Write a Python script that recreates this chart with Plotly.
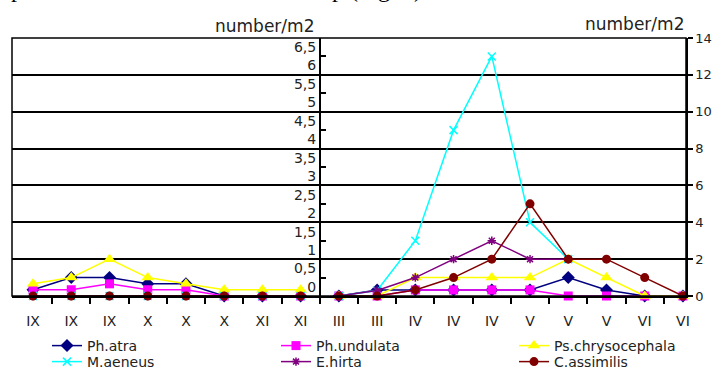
import plotly.graph_objects as go

# ---------------- data ----------------
categories = ["IX", "IX", "IX", "X", "X", "X", "XI", "XI",
              "III", "III", "IV", "IV", "IV", "V", "V", "V", "VI", "VI"]

# autumn samples (indices 0-7), read on the middle axis
ph_atra_autumn = [0.17, 0.5, 0.5, 0.33, 0.33, 0, 0, 0]
ph_undulata_autumn = [0.17, 0.17, 0.33, 0.17, 0.17, 0, 0, 0]
ps_chrys_autumn = [0.33, 0.5, 1.0, 0.5, 0.33, 0.17, 0.17, 0.17]
m_aeneus_autumn = [0, 0, 0, 0, 0, 0, 0, 0]
e_hirta_autumn = [0, 0, 0, 0, 0, 0, 0, 0]
c_assimilis_autumn = [0, 0, 0, 0, 0, 0, 0, 0]

# spring samples (indices 8-17), read on the right axis
ph_atra_spring = [0, 0.33, 0.33, 0.33, 0.33, 0.33, 1, 0.33, 0, 0]
ph_undulata_spring = [0, 0, 0.33, 0.33, 0.33, 0.33, 0, 0, 0, 0]
ps_chrys_spring = [0, 0, 1, 1, 1, 1, 2, 1, 0, 0]
m_aeneus_spring = [0, 0.3, 3, 9, 13, 4, 2, None, None, None]
e_hirta_spring = [0, 0.3, 1, 2, 3, 2, 2, None, None, None]
c_assimilis_spring = [0, 0, 0.33, 1, 2, 5, 2, 2, 1, 0]

species = ["Ph.atra", "Ph.undulata", "Ps.chrysocephala", "M.aeneus", "E.hirta", "C.assimilis"]
autumn = [ph_atra_autumn, ph_undulata_autumn, ps_chrys_autumn,
          m_aeneus_autumn, e_hirta_autumn, c_assimilis_autumn]
spring = [ph_atra_spring, ph_undulata_spring, ps_chrys_spring,
          m_aeneus_spring, e_hirta_spring, c_assimilis_spring]

right_ticks = [0, 2, 4, 6, 8, 10, 12, 14]
mid_tickvals = [0.5, 1.5, 2.5, 3.5, 4.5, 5.5, 6.5]
mid_ticktext = ["0,5<br>0", "1,5<br>1", "2,5<br>2", "3,5<br>3", "4,5<br>4", "5,5<br>5", "6,5<br>6"]

# ---------------- styles ----------------
colors = ["#000080", "#FF00FF", "#FFFF00", "#00FFFF", "#800080", "#800000"]
symbols = ["diamond", "square", "triangle-up", "x-thin", "asterisk", "circle"]
sizes = [10, 9, 11, 8, 7, 9]
legend_ids = ["legend", "legend2", "legend3", "legend4", "legend5", "legend6"]
legend_px = [(47, 346), (276, 346), (514, 346), (47, 362), (276, 362), (514, 362)]

FONT = "DejaVu Sans"
TXT = "#222222"

W, H = 713, 371
ML, MR, MT, MB = 12, 27, 38, 75
PW, PH = W - ML - MR, H - MT - MB


def px_x(px):
    return (px - ML) / PW


def px_y(py):
    return (H - MB - py) / PH


n_aut = len(ph_atra_autumn)
x_aut = list(range(n_aut))
x_spr = list(range(n_aut, len(categories)))

fig = go.Figure()
for k, name in enumerate(species):
    mk = dict(symbol=symbols[k], size=sizes[k], color=colors[k],
              line=dict(color=colors[k], width=1.5 if symbols[k] in ("x-thin", "asterisk") else 0))
    fig.add_trace(go.Scatter(
        x=x_aut, y=autumn[k], yaxis="y2", mode="lines+markers", name=name,
        legendgroup=name, showlegend=True, legend=legend_ids[k],
        line=dict(color=colors[k], width=1.5), marker=mk, cliponaxis=False))
    fig.add_trace(go.Scatter(
        x=x_spr, y=spring[k], yaxis="y", mode="lines+markers", name=name,
        legendgroup=name, showlegend=False, legend=legend_ids[k],
        line=dict(color=colors[k], width=1.5), marker=mk, cliponaxis=False))

x_lo, x_hi = -0.55, 17.08
mid_pos = (n_aut - 0.5 - x_lo) / (x_hi - x_lo)

legends = {}
for lid, (lx, ly) in zip(legend_ids, legend_px):
    legends[lid] = dict(orientation="v", xref="paper", yref="paper",
                        xanchor="left", yanchor="middle", x=px_x(lx), y=px_y(ly),
                        font=dict(family=FONT, size=14, color=TXT),
                        bgcolor="rgba(0,0,0,0)", tracegroupgap=0, itemwidth=30)

fig.update_layout(
    width=W, height=H,
    margin=dict(l=ML, r=MR, t=MT, b=MB, autoexpand=False),
    paper_bgcolor="white", plot_bgcolor="white",
    font=dict(family=FONT, size=14, color=TXT),
    xaxis=dict(range=[x_lo, x_hi], domain=[0, 1], automargin=False,
               tickmode="array", tickvals=list(range(len(categories))),
               ticktext=categories, ticks="outside", ticklen=11, tickcolor="rgba(0,0,0,0)",
               minor=dict(tickmode="array", tickvals=[i + 0.5 for i in range(len(categories) - 1)],
                          ticks="outside", ticklen=6, tickcolor="black", tickwidth=1.5),
               showline=True, linecolor="black", linewidth=1.5, showgrid=False, zeroline=False,
               tickfont=dict(family=FONT, size=14, color=TXT)),
    yaxis=dict(range=[0, 14], side="right", automargin=False, tickmode="array", tickvals=right_ticks,
               ticks="outside", ticklen=5, tickcolor="black", tickwidth=1.5,
               showline=True, linecolor="black", linewidth=1.5,
               showgrid=True, gridcolor="black", gridwidth=1.5, zeroline=False,
               tickfont=dict(family=FONT, size=13, color=TXT)),
    yaxis2=dict(range=[0, 7], overlaying="y", anchor="free", position=mid_pos, side="left",
                automargin=False, autoshift=False,
                tickmode="array", tickvals=mid_tickvals, ticktext=mid_ticktext,
                ticks="inside", ticklen=5, tickcolor="black", tickwidth=1.5,
                showline=True, linecolor="black", linewidth=1.5,
                showgrid=False, zeroline=False,
                tickfont=dict(family=FONT, size=14, color=TXT)),
    shapes=[dict(type="rect", xref="paper", yref="paper", x0=0, x1=1, y0=0, y1=1,
                 line=dict(color="black", width=1.5), layer="above")],
    annotations=[
        dict(text="number/m2", xref="paper", yref="paper", x=px_x(264), y=px_y(26),
             xanchor="center", yanchor="middle", showarrow=False,
             font=dict(family=FONT, size=17, color=TXT)),
        dict(text="number/m2", xref="paper", yref="paper", x=px_x(634), y=px_y(24),
             xanchor="center", yanchor="middle", showarrow=False,
             font=dict(family=FONT, size=17, color=TXT)),
        dict(text="p", xref="paper", yref="paper", x=px_x(9), y=px_y(4),
             xanchor="left", yanchor="bottom", showarrow=False,
             font=dict(family="Liberation Serif", size=24, color="black")),
        dict(text="p (Fig. 2)", xref="paper", yref="paper", x=px_x(330), y=px_y(4),
             xanchor="left", yanchor="bottom", showarrow=False,
             font=dict(family="Liberation Serif", size=24, color="black")),
    ],
    **legends,
)

fig.write_html("out.html", config={"displayModeBar": False},
               post_script="document.body.style.margin='0';")
